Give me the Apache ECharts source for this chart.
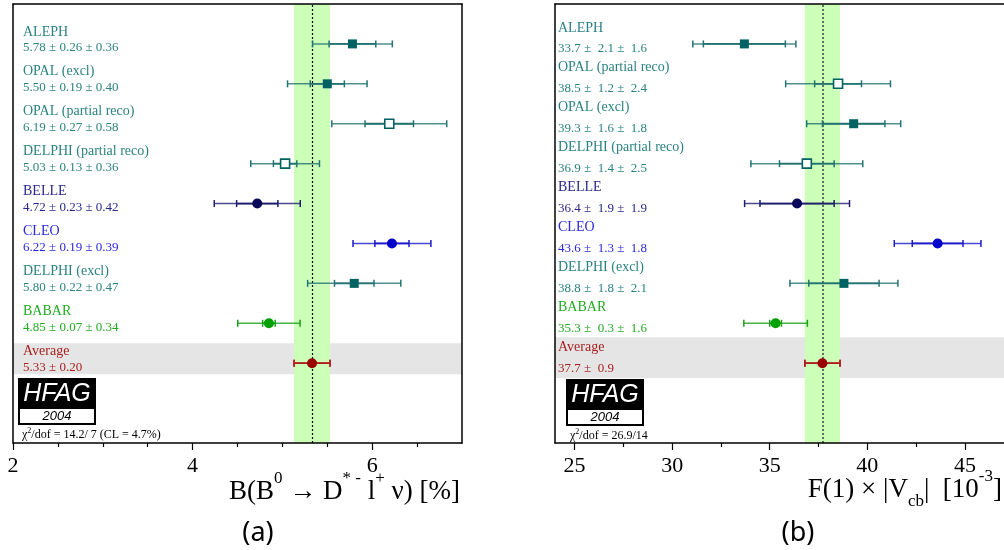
<!DOCTYPE html>
<html>
<head>
<meta charset="utf-8">
<script src="https://cdn.jsdelivr.net/npm/echarts@6/dist/echarts.min.js"></script>
<style>
html, body { margin: 0; padding: 0; background: #fff; }
#chart { width: 1004px; height: 550px; }
</style>
</head>
<body>
<div id="chart"></div>
<script>
// panel (a): B(B0 -> D*- l+ nu) [%]
const namesA = ['ALEPH', 'OPAL (excl)', 'OPAL (partial reco)', 'DELPHI (partial reco)', 'BELLE', 'CLEO', 'DELPHI (excl)', 'BABAR', 'Average'];
const valuesA = [5.78, 5.50, 6.19, 5.03, 4.72, 6.22, 5.80, 4.85, 5.33];
const statA = [0.26, 0.19, 0.27, 0.13, 0.23, 0.19, 0.22, 0.07, 0.20];
const systA = [0.36, 0.40, 0.58, 0.36, 0.42, 0.39, 0.47, 0.34, 0];
const groupsA = ['lep', 'lep', 'lep', 'lep', 'belle', 'cleo', 'lep', 'babar', 'avg'];
const markersA = ['square', 'square', 'open', 'open', 'circle', 'circle', 'square', 'circle', 'circle'];
const majorTicksA = [2, 4, 6];
const minorTicksA = [2.5, 3, 3.5, 4.5, 5, 5.5, 6.5];
const grayBandA = [1.72, 2.5];
const chi2A = '/dof = 14.2/ 7 (CL = 4.7%)';

// panel (b): F(1)|Vcb| [10^-3]
const namesB = ['ALEPH', 'OPAL (partial reco)', 'OPAL (excl)', 'DELPHI (partial reco)', 'BELLE', 'CLEO', 'DELPHI (excl)', 'BABAR', 'Average'];
const valuesB = [33.7, 38.5, 39.3, 36.9, 36.4, 43.6, 38.8, 35.3, 37.7];
const statB = [2.1, 1.2, 1.6, 1.4, 1.9, 1.3, 1.8, 0.3, 0.9];
const systB = [1.6, 2.4, 1.8, 2.5, 1.9, 1.8, 2.1, 1.6, 0];
const groupsB = ['lep', 'lep', 'lep', 'lep', 'belle', 'cleo', 'lep', 'babar', 'avg'];
const markersB = ['square', 'open', 'square', 'open', 'circle', 'circle', 'square', 'circle', 'circle'];
const majorTicksB = [25, 30, 35, 40, 45];
const minorTicksB = [27.5, 32.5, 37.5, 42.5];
const grayBandB = [1.63, 2.65];
const chi2B = '/dof = 26.9/14';

const SERIF = '"Liberation Serif", "DejaVu Serif", serif';

const palette = {
  lep:   { text: '#2b8282', line: '#237373', mark: '#006262' },
  belle: { text: '#28288a', line: '#1e1e6e', mark: '#08085a' },
  cleo:  { text: '#2828dc', line: '#1c1cc8', mark: '#0000cc' },
  babar: { text: '#22aa22', line: '#18a018', mark: '#00a000' },
  avg:   { text: '#a82222', line: '#b01c1c', mark: '#990000' }
};

var chart = echarts.init(document.getElementById('chart'));

function fmt(v, d) { return v.toFixed(d); }

// error bars, markers and the labels on the left of each row
function errorSeries(xi, yi, names, vals, stat, syst, groups, markers, opt) {
  const n = names.length;
  const data = vals.map((v, i) => [v, n + 1 - i, stat[i], syst[i], i]);
  return {
    type: 'custom',
    xAxisIndex: xi,
    yAxisIndex: yi,
    z: 5,
    silent: true,
    data: data,
    renderItem: function (params, api) {
      const i = api.value(4);
      const v = api.value(0), row = api.value(1), s = api.value(2), sy = api.value(3);
      const tot = Math.sqrt(s * s + sy * sy);
      const col = palette[groups[i]];
      const p = api.coord([v, row]);
      const cy = p[1];
      const lo = api.coord([v - tot, row])[0], hi = api.coord([v + tot, row])[0];
      const slo = api.coord([v - s, row])[0], shi = api.coord([v + s, row])[0];
      const line = (x1, y1, x2, y2, w, op) => ({
        type: 'line', shape: { x1: x1, y1: y1, x2: x2, y2: y2 },
        style: { stroke: col.line, lineWidth: w, opacity: op }
      });
      const kids = [
        line(lo, cy, hi, cy, 1.5, 0.8),
        line(slo, cy, shi, cy, 1.8, 1),
        line(lo, cy - 3.5, lo, cy + 3.5, 1.5, 1),
        line(hi, cy - 3.5, hi, cy + 3.5, 1.5, 1),
        line(slo, cy - 3.5, slo, cy + 3.5, 1.5, 1),
        line(shi, cy - 3.5, shi, cy + 3.5, 1.5, 1)
      ];
      if (markers[i] === 'circle') {
        kids.push({ type: 'circle', shape: { cx: p[0], cy: cy, r: 5 }, style: { fill: col.mark } });
      } else if (markers[i] === 'square') {
        kids.push({ type: 'rect', shape: { x: p[0] - 4.5, y: cy - 4.5, width: 9, height: 9 }, style: { fill: col.mark } });
      } else {
        kids.push({ type: 'rect', shape: { x: p[0] - 4.5, y: cy - 4.5, width: 9, height: 9 },
          style: { fill: '#fff', stroke: col.mark, lineWidth: 1.6 } });
      }
      let valText = fmt(v, opt.digits) + opt.pm + fmt(s, opt.digits);
      if (sy > 0) valText += opt.pm + fmt(sy, opt.digits);
      const tx = params.coordSys.x + opt.dx;
      kids.push({ type: 'text', x: tx, y: cy + opt.nameDy,
        style: { text: names[i], fill: col.text, font: '14px ' + SERIF, verticalAlign: 'middle' } });
      kids.push({ type: 'text', x: tx, y: cy + opt.valueDy,
        style: { text: valText, fill: col.text, font: '13px ' + SERIF, verticalAlign: 'middle' } });
      return { type: 'group', children: kids };
    }
  };
}

// shaded bands and dotted average line
function bandSeries(xi, yi, avg, err, gray, dotColor, dotWidth) {
  return {
    type: 'line',
    xAxisIndex: xi,
    yAxisIndex: yi,
    z: 1,
    data: [],
    silent: true,
    markArea: {
      silent: true,
      label: { show: false },
      data: [
        [{ yAxis: gray[0], itemStyle: { color: '#e5e5e5' } }, { yAxis: gray[1] }],
        [{ xAxis: avg - err, itemStyle: { color: '#ccffb8' } }, { xAxis: avg + err }]
      ]
    },
    markLine: {
      silent: true,
      symbol: 'none',
      label: { show: false },
      lineStyle: { color: dotColor, width: dotWidth, type: [2, 2] },
      data: [{ xAxis: avg }]
    }
  };
}

const frameLine = { show: true, onZero: false, lineStyle: { color: '#000', width: 1.5 } };

function xAxes(gi, min, max, major, minor) {
  return [
    { gridIndex: gi, type: 'value', min: min, max: max, position: 'bottom', z: 6,
      axisLine: frameLine,
      axisTick: { show: true, length: 7, customValues: major, lineStyle: { color: '#000', width: 1.2 } },
      axisLabel: { customValues: major, margin: 12, color: '#000', fontSize: 22, fontFamily: SERIF },
      splitLine: { show: false } },
    { gridIndex: gi, type: 'value', min: min, max: max, position: 'bottom', z: 6,
      axisLine: { show: false },
      axisTick: { show: true, length: 4, customValues: minor, lineStyle: { color: '#000', width: 1.2 } },
      axisLabel: { show: false },
      splitLine: { show: false } },
    { gridIndex: gi, type: 'value', min: min, max: max, position: 'top', z: 6,
      axisLine: frameLine, axisTick: { show: false }, axisLabel: { show: false }, splitLine: { show: false } }
  ];
}

function yAxis(gi, pos) {
  return { gridIndex: gi, type: 'value', min: 0, max: 11, position: pos, z: 6,
    axisLine: frameLine, axisTick: { show: false }, axisLabel: { show: false }, splitLine: { show: false } };
}

function hfag(x, y, chi2) {
  return [
    { type: 'group', x: x, y: y, silent: true, children: [
      { type: 'rect', shape: { x: 0, y: 0, width: 78, height: 47 }, style: { fill: '#000' } },
      { type: 'rect', shape: { x: 2, y: 31, width: 74, height: 14 }, style: { fill: '#fff' } },
      { type: 'text', x: 39, y: 16, style: { text: 'HFAG', fill: '#fff', font: 'italic 25px "Liberation Sans"', align: 'center', verticalAlign: 'middle' } },
      { type: 'text', x: 39, y: 38.5, style: { text: '2004', fill: '#000', font: 'italic 13px "Liberation Sans"', align: 'center', verticalAlign: 'middle' } }
    ] },
    { type: 'text', x: x + 4, y: y + 57, silent: true, style: {
      text: '{n|χ}{s|2}{n|' + chi2 + '}', verticalAlign: 'middle',
      rich: {
        n: { fontSize: 12, fontFamily: SERIF, color: '#000', lineHeight: 16, verticalAlign: 'middle' },
        s: { fontSize: 8, fontFamily: SERIF, color: '#000', lineHeight: 16, verticalAlign: 'top' }
      } } }
  ];
}

const titleRich = {
  m: { fontSize: 27, fontFamily: SERIF, color: '#000', lineHeight: 44, verticalAlign: 'middle' },
  s: { fontSize: 17, fontFamily: SERIF, color: '#000', lineHeight: 44, verticalAlign: 'top' },
  b: { fontSize: 17, fontFamily: SERIF, color: '#000', lineHeight: 44, verticalAlign: 'bottom', padding: [0, 0, 2, 0] }
};

let option = {
  animation: false,
  textStyle: { fontFamily: SERIF },
  grid: [
    { left: 13, top: 4, width: 449, height: 439 },
    { left: 555, top: 4, width: 449, height: 439 }
  ],
  xAxis: xAxes(0, 2, 7, majorTicksA, minorTicksA).concat(xAxes(1, 24, 47, majorTicksB, minorTicksB)),
  yAxis: [yAxis(0, 'left'), yAxis(0, 'right'), yAxis(1, 'left')],
  series: [
    bandSeries(0, 0, valuesA[8], statA[8], grayBandA, '#000', 1.2),
    bandSeries(3, 2, valuesB[8], statB[8], grayBandB, '#5f6f5f', 2),
    errorSeries(0, 0, namesA, valuesA, statA, systA, groupsA, markersA,
      { digits: 2, pm: ' ± ', dx: 10, nameDy: -12, valueDy: 4 }),
    errorSeries(3, 2, namesB, valuesB, statB, systB, groupsB, markersB,
      { digits: 1, pm: ' ±  ', dx: 3, nameDy: -16, valueDy: 5 })
  ],
  graphic: hfag(18, 378, chi2A).concat(hfag(566, 379, chi2B)).concat([
    { type: 'text', x: 460, y: 492, silent: true, style: {
      text: '{m|B(B}{s|0}{m| → D}{s|* -}{m| l}{s|+}{m| ν) [%]}',
      align: 'right', verticalAlign: 'middle', rich: titleRich } },
    { type: 'text', x: 1002, y: 490, silent: true, style: {
      text: '{m|F(1) × |V}{b|cb}{m||  [10}{s|-3}{m|]}',
      align: 'right', verticalAlign: 'middle', rich: titleRich } },
    { type: 'text', x: 258, y: 533, silent: true, style: {
      text: '(a)', font: '27px "Noto Sans"', fill: '#000', align: 'center', verticalAlign: 'middle' } },
    { type: 'text', x: 798, y: 533, silent: true, style: {
      text: '(b)', font: '27px "Noto Sans"', fill: '#000', align: 'center', verticalAlign: 'middle' } }
  ])
};

chart.setOption(option);
</script>
</body>
</html>
